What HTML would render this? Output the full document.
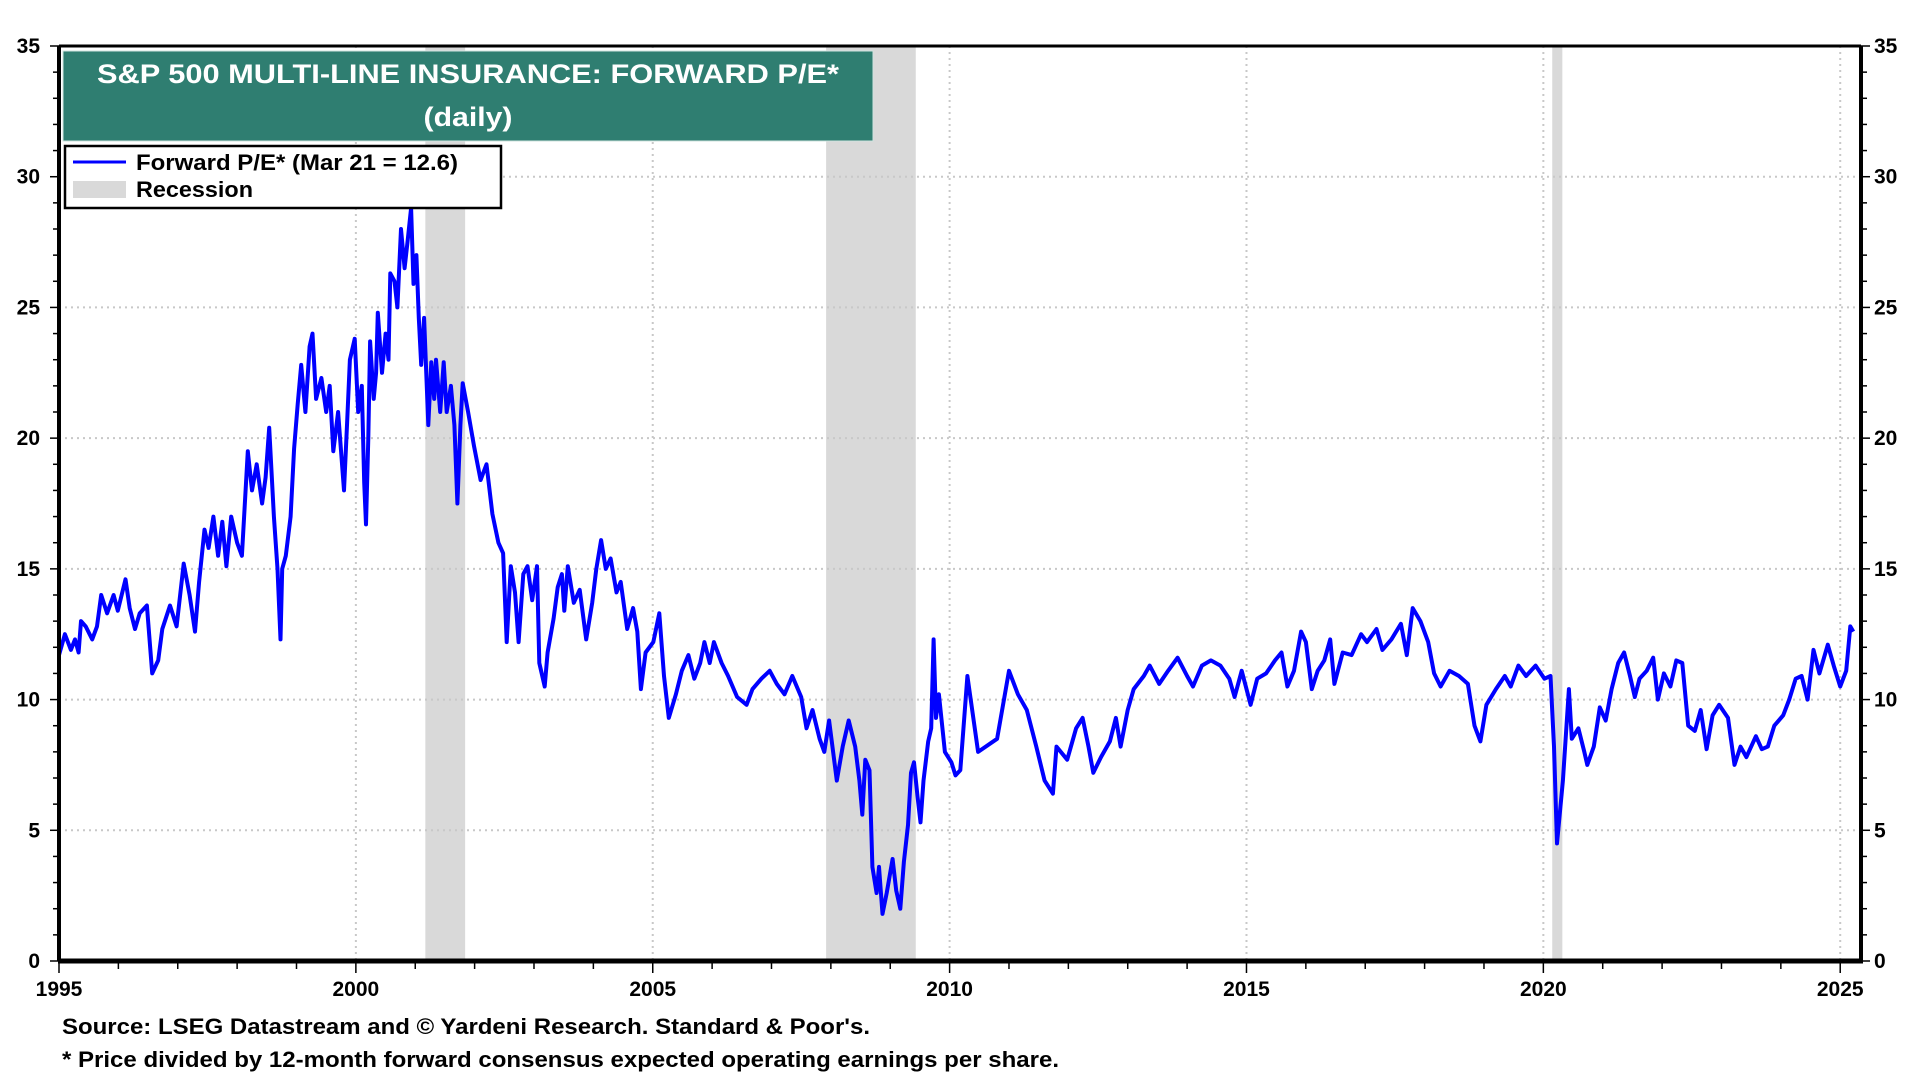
<!DOCTYPE html>
<html><head><meta charset="utf-8"><style>
html,body{margin:0;padding:0;background:#fff;}
svg{display:block;font-family:"Liberation Sans",Arial,sans-serif;font-weight:bold;}
</style></head><body>
<svg id="chart" width="1920" height="1080" viewBox="0 0 1920 1080"></svg>
<script>
const years=[1995.0,1995.1,1995.2,1995.27,1995.33,1995.37,1995.45,1995.56,1995.64,1995.71,1995.81,1995.92,1995.99,1996.12,1996.19,1996.28,1996.36,1996.48,1996.57,1996.67,1996.74,1996.87,1996.98,1997.1,1997.2,1997.29,1997.36,1997.45,1997.52,1997.6,1997.68,1997.75,1997.82,1997.9,1998.0,1998.08,1998.18,1998.25,1998.33,1998.42,1998.48,1998.54,1998.62,1998.68,1998.73,1998.76,1998.82,1998.9,1998.96,1999.02,1999.08,1999.15,1999.22,1999.27,1999.33,1999.42,1999.5,1999.56,1999.62,1999.7,1999.8,1999.85,1999.9,1999.98,2000.04,2000.1,2000.14,2000.17,2000.21,2000.24,2000.3,2000.34,2000.37,2000.44,2000.5,2000.55,2000.58,2000.65,2000.7,2000.76,2000.82,2000.87,2000.93,2000.97,2001.02,2001.06,2001.1,2001.15,2001.22,2001.27,2001.32,2001.35,2001.42,2001.48,2001.53,2001.6,2001.66,2001.71,2001.76,2001.8,2001.89,2001.99,2002.1,2002.2,2002.3,2002.4,2002.48,2002.54,2002.61,2002.68,2002.74,2002.82,2002.89,2002.97,2003.05,2003.09,2003.18,2003.23,2003.33,2003.4,2003.47,2003.51,2003.57,2003.67,2003.77,2003.88,2003.98,2004.05,2004.13,2004.21,2004.29,2004.39,2004.46,2004.57,2004.67,2004.74,2004.8,2004.88,2005.01,2005.11,2005.19,2005.27,2005.39,2005.49,2005.6,2005.7,2005.8,2005.87,2005.96,2006.03,2006.16,2006.27,2006.42,2006.58,2006.68,2006.83,2006.97,2007.09,2007.22,2007.35,2007.5,2007.59,2007.69,2007.81,2007.89,2007.97,2008.1,2008.2,2008.3,2008.41,2008.48,2008.53,2008.58,2008.65,2008.7,2008.77,2008.81,2008.87,2008.94,2009.04,2009.1,2009.17,2009.23,2009.3,2009.35,2009.4,2009.46,2009.51,2009.56,2009.64,2009.69,2009.73,2009.77,2009.82,2009.92,2010.03,2010.1,2010.18,2010.3,2010.48,2010.8,2011.0,2011.15,2011.3,2011.46,2011.6,2011.74,2011.8,2011.98,2012.13,2012.24,2012.34,2012.42,2012.55,2012.7,2012.8,2012.88,2013.0,2013.1,2013.27,2013.37,2013.53,2013.68,2013.84,2014.0,2014.1,2014.25,2014.4,2014.56,2014.71,2014.8,2014.92,2015.07,2015.18,2015.33,2015.48,2015.59,2015.69,2015.8,2015.92,2016.0,2016.1,2016.2,2016.31,2016.41,2016.48,2016.62,2016.77,2016.93,2017.03,2017.19,2017.29,2017.44,2017.6,2017.7,2017.8,2017.93,2018.06,2018.16,2018.27,2018.42,2018.58,2018.73,2018.84,2018.94,2019.04,2019.2,2019.35,2019.45,2019.58,2019.71,2019.87,2020.02,2020.12,2020.18,2020.23,2020.33,2020.43,2020.48,2020.59,2020.69,2020.74,2020.85,2020.95,2021.05,2021.15,2021.26,2021.36,2021.46,2021.54,2021.62,2021.74,2021.85,2021.93,2022.03,2022.14,2022.24,2022.34,2022.44,2022.55,2022.65,2022.75,2022.85,2022.96,2023.11,2023.22,2023.32,2023.42,2023.58,2023.68,2023.78,2023.89,2024.04,2024.14,2024.25,2024.35,2024.45,2024.55,2024.65,2024.79,2024.89,2025.0,2025.1,2025.17,2025.22];
const peValues=[11.7,12.5,11.9,12.3,11.8,13.0,12.8,12.3,12.8,14.0,13.3,14.0,13.4,14.6,13.5,12.7,13.3,13.6,11.0,11.5,12.7,13.6,12.8,15.2,14.0,12.6,14.5,16.5,15.8,17.0,15.5,16.8,15.1,17.0,16.0,15.5,19.5,18.0,19.0,17.5,18.5,20.4,17.0,15.0,12.3,15.0,15.5,17.0,19.6,21.3,22.8,21.0,23.5,24.0,21.5,22.3,21.0,22.0,19.5,21.0,18.0,20.5,23.0,23.8,21.0,22.0,18.3,16.7,20.0,23.7,21.5,22.5,24.8,22.5,24.0,23.0,26.3,26.0,25.0,28.0,26.5,27.5,28.8,25.9,27.0,24.6,22.8,24.6,20.5,22.9,21.5,23.0,21.0,22.9,21.0,22.0,20.5,17.5,20.5,22.1,21.0,19.7,18.4,19.0,17.1,16.0,15.6,12.2,15.1,14.1,12.2,14.8,15.1,13.8,15.1,11.4,10.5,11.8,13.1,14.3,14.8,13.4,15.1,13.7,14.2,12.3,13.7,15.0,16.1,15.0,15.4,14.1,14.5,12.7,13.5,12.6,10.4,11.8,12.2,13.3,10.9,9.3,10.2,11.1,11.7,10.8,11.4,12.2,11.4,12.2,11.4,10.9,10.1,9.8,10.4,10.8,11.1,10.6,10.2,10.9,10.1,8.9,9.6,8.5,8.0,9.2,6.9,8.2,9.2,8.2,6.9,5.6,7.7,7.3,3.6,2.6,3.6,1.8,2.6,3.9,2.7,2.0,3.8,5.2,7.2,7.6,6.3,5.3,6.9,8.4,8.9,12.3,9.3,10.2,8.0,7.6,7.1,7.3,10.9,8.0,8.5,11.1,10.2,9.6,8.2,6.9,6.4,8.2,7.7,8.9,9.3,8.2,7.2,7.8,8.4,9.3,8.2,9.6,10.4,10.9,11.3,10.6,11.1,11.6,10.9,10.5,11.3,11.5,11.3,10.8,10.1,11.1,9.8,10.8,11.0,11.5,11.8,10.5,11.1,12.6,12.2,10.4,11.1,11.5,12.3,10.6,11.8,11.7,12.5,12.2,12.7,11.9,12.3,12.9,11.7,13.5,13.0,12.2,11.0,10.5,11.1,10.9,10.6,9.0,8.4,9.8,10.4,10.9,10.5,11.3,10.9,11.3,10.8,10.9,8.2,4.5,6.9,10.4,8.5,8.9,8.0,7.5,8.2,9.7,9.2,10.4,11.4,11.8,10.9,10.1,10.8,11.1,11.6,10.0,11.0,10.5,11.5,11.4,9.0,8.8,9.6,8.1,9.4,9.8,9.3,7.5,8.2,7.8,8.6,8.1,8.2,9.0,9.4,10.0,10.8,10.9,10.0,11.9,11.0,12.1,11.3,10.5,11.1,12.8,12.6];
const recessionStarts=[2001.17,2007.92,2020.15];
const recessionEnds=[2001.84,2009.43,2020.32];
const yTicks=[0,5,10,15,20,25,30,35];
const xTickYears=[1995,2000,2005,2010,2015,2020,2025];

const L=59,R=1861,T=46,B=961,Y0=1995,Y1=2025.35;
const NS='http://www.w3.org/2000/svg';
const svg=document.getElementById('chart');
function xs(yr){return L+(yr-Y0)*(R-L)/(Y1-Y0);}
function ys(v){return B-(v/35)*(B-T);}
function mk(tag,attrs,parent){const e=document.createElementNS(NS,tag);for(const k in attrs)e.setAttribute(k,attrs[k]);(parent||svg).appendChild(e);return e;}

const gRec=mk('g',{});


for(let i=0;i<recessionStarts.length;i++){
  const r=mk('rect',{x:xs(recessionStarts[i]),y:T,width:xs(recessionEnds[i])-xs(recessionStarts[i]),height:B-T,fill:'#d9d9d9'},gRec);
  
  
}
const gGrid=mk('g',{stroke:'#c8c8c8','stroke-width':2,'stroke-dasharray':'2,4'});


yTicks.forEach(v=>{if(v>0&&v<35)mk('line',{x1:L,x2:R,y1:ys(v),y2:ys(v)},gGrid);});
xTickYears.forEach(y=>{if(y>Y0)mk('line',{x1:xs(y),x2:xs(y),y1:T,y2:B},gGrid);});

let d='';
for(let i=0;i<years.length;i++){d+=(i?'L':'M')+xs(years[i]).toFixed(1)+','+ys(peValues[i]).toFixed(1);}
const line=mk('path',{d:d,fill:'none',stroke:'#0000ff','stroke-width':4,'stroke-linejoin':'round'});



const frame=mk('g',{stroke:'#000',fill:'none'});


mk('line',{x1:L,x2:R,y1:T,y2:T,'stroke-width':3},frame);
mk('line',{x1:L-1,x2:R+2,y1:B,y2:B,'stroke-width':5},frame);
mk('line',{x1:L,x2:L,y1:T,y2:B,'stroke-width':4},frame);
mk('line',{x1:R,x2:R,y1:T,y2:B,'stroke-width':4},frame);
for(let v=0;v<=35;v++){
  const w=(v%5===0)?9:6;
  mk('line',{x1:L-w,x2:L,y1:ys(v),y2:ys(v),'stroke-width':1.5},frame);
  mk('line',{x1:R,x2:R+w,y1:ys(v),y2:ys(v),'stroke-width':1.5},frame);
}
for(let y=1995;y<=2025;y++){mk('line',{x1:xs(y),x2:xs(y),y1:B,y2:B+(y%5===0?12:8),'stroke-width':1.5},frame);}

yTicks.forEach(v=>{
  const a=mk('text',{x:40,y:ys(v)+7,'text-anchor':'end','font-size':21,fill:'#000'});a.textContent=v;
  
  
  const b=mk('text',{x:1874,y:ys(v)+7,'text-anchor':'start','font-size':21,fill:'#000'});b.textContent=v;
  
  
});
xTickYears.forEach(y=>{
  const t=mk('text',{x:xs(y),y:996,'text-anchor':'middle','font-size':21,fill:'#000'});t.textContent=y;
  
  
});
</script>
<svg width="1920" height="1080" style="position:absolute;left:0;top:0;font-family:'Liberation Sans',Arial,sans-serif;font-weight:bold">
  <g>
    <rect x="63" y="51" width="810" height="90" fill="#2f7e71" stroke="#cfe3de" stroke-width="1"/>
    <text x="468" y="83" text-anchor="middle" font-size="27" fill="#fff" textLength="742" lengthAdjust="spacingAndGlyphs">S&amp;P 500 MULTI-LINE INSURANCE: FORWARD P/E*</text>
    <text x="468" y="126" text-anchor="middle" font-size="27" fill="#fff" textLength="89" lengthAdjust="spacingAndGlyphs">(daily)</text>
  </g>
  <g>
    <rect x="65" y="146" width="436" height="62" fill="#fff" stroke="#000" stroke-width="2.5"/>
    <line x1="73" x2="126" y1="162" y2="162" stroke="#0000ff" stroke-width="3"/>
    <text x="136" y="170" font-size="22" fill="#000" textLength="322" lengthAdjust="spacingAndGlyphs">Forward P/E* (Mar 21 = 12.6)</text>
    <rect x="73" y="181" width="53" height="17" fill="#d9d9d9"/>
    <text x="136" y="197" font-size="22" fill="#000" textLength="117" lengthAdjust="spacingAndGlyphs">Recession</text>
  </g>
  <text x="62" y="1034" font-size="22" fill="#000" textLength="808" lengthAdjust="spacingAndGlyphs">Source: LSEG Datastream and © Yardeni Research. Standard &amp; Poor's.</text>
  <text x="62" y="1067" font-size="22" fill="#000" textLength="997" lengthAdjust="spacingAndGlyphs">* Price divided by 12-month forward consensus expected operating earnings per share.</text>
</svg>
</body></html>
